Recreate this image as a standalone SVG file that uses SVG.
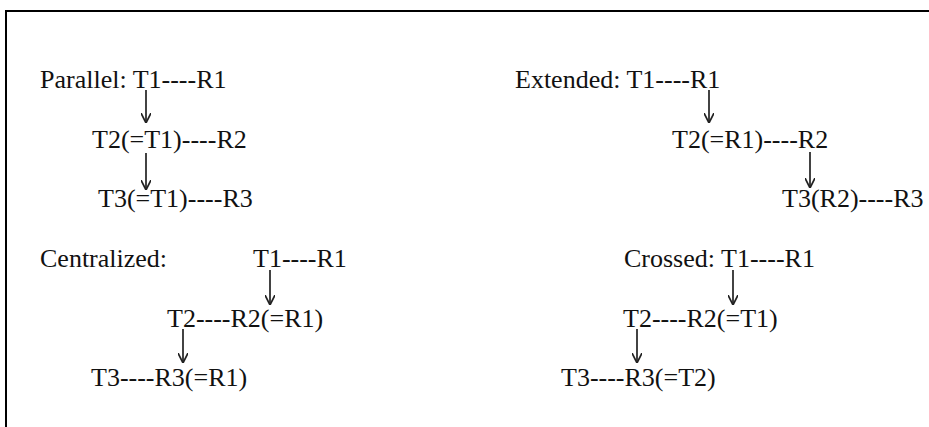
<svg xmlns="http://www.w3.org/2000/svg" width="929" height="427" viewBox="0 0 929 427">
  <style>
    .t { font-family: "Liberation Serif", "Times New Roman", serif; font-size: 26px; fill: #111; }
    .c { stroke: #222; stroke-width: 1.7; fill: none; marker-end: url(#ah); }
    .frame { stroke: #000; stroke-width: 2; fill: none; }
  </style>
  <defs>
    <marker id="ah" viewBox="0 0 10 10" refX="10" refY="5" markerWidth="10" markerHeight="10" markerUnits="userSpaceOnUse" orient="auto">
      <path d="M0,0 L10,5 L0,10" fill="none" stroke="#222" stroke-width="1.7"/>
    </marker>
  </defs>
  <rect width="929" height="427" fill="#fff"/>
  <path class="frame" d="M6,427 L6,11 L929,11"/>

  <g id="parallel">
    <g id="p1"><text class="t" x="40" y="88">Parallel: T1----R1</text></g>
    <g id="p2"><text class="t" x="92" y="148">T2(=T1)----R2</text></g>
    <g id="p3"><text class="t" x="98" y="207">T3(=T1)----R3</text></g>
  </g>
  <g id="extended">
    <g id="e1"><text class="t" x="515" y="88">Extended: T1----R1</text></g>
    <g id="e2"><text class="t" x="672" y="148">T2(=R1)----R2</text></g>
    <g id="e3"><text class="t" x="782" y="207">T3(R2)----R3</text></g>
  </g>
  <g id="centralized">
    <g id="c0"><text class="t" x="40" y="267">Centralized:</text></g>
    <g id="c1"><text class="t" x="253" y="267">T1----R1</text></g>
    <g id="c2"><text class="t" x="167" y="327">T2----R2(=R1)</text></g>
    <g id="c3"><text class="t" x="91" y="386">T3----R3(=R1)</text></g>
  </g>
  <g id="crossed">
    <g id="x1"><text class="t" x="624" y="267">Crossed: T1----R1</text></g>
    <g id="x2"><text class="t" x="623" y="327">T2----R2(=T1)</text></g>
    <g id="x3"><text class="t" x="561" y="386">T3----R3(=T2)</text></g>
  </g>

  <g id="connectors">
    <line class="c" x1="146" y1="90" x2="146" y2="123"/>
    <line class="c" x1="146" y1="153" x2="146" y2="190"/>
    <line class="c" x1="709" y1="90" x2="709" y2="123"/>
    <line class="c" x1="810" y1="152" x2="810" y2="188"/>
    <line class="c" x1="270" y1="270" x2="270" y2="305"/>
    <line class="c" x1="183" y1="329" x2="183" y2="363"/>
    <line class="c" x1="733" y1="270" x2="733" y2="305"/>
    <line class="c" x1="637" y1="329" x2="637" y2="363"/>
  </g>
</svg>
